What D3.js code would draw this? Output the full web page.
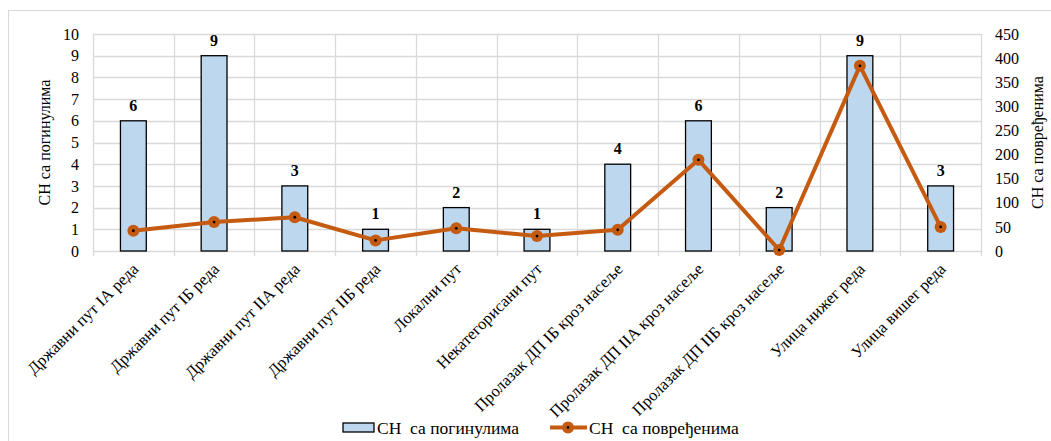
<!DOCTYPE html>
<html>
<head>
<meta charset="utf-8">
<script src="https://cdn.jsdelivr.net/npm/d3@7"></script>
<style>
  body { margin: 0; background: #fff; }
  text { font-family: "Liberation Serif", "Times New Roman", serif; }
</style>
</head>
<body>
<svg id="chart" width="1051" height="441"></svg>
<script>
// Road categories
const categories = [
  "Државни пут IА реда",
  "Државни пут IБ реда",
  "Државни пут IIА реда",
  "Државни пут IIБ реда",
  "Локални пут",
  "Некатегорисани пут",
  "Пролазак ДП IБ кроз насеље",
  "Пролазак ДП IIА кроз насеље",
  "Пролазак ДП IIБ кроз насеље",
  "Улица нижег реда",
  "Улица вишег реда"
];
// Accidents with fatalities (left axis)
const killed = [6, 9, 3, 1, 2, 1, 4, 6, 2, 9, 3];
// Accidents with injuries (right axis)
const injured = [42, 60, 70, 22, 47, 31, 44, 189, 2, 384, 50];

const leftTicks = [0, 1, 2, 3, 4, 5, 6, 7, 8, 9, 10];
const rightTicks = [0, 50, 100, 150, 200, 250, 300, 350, 400, 450];

const seriesNames = ["СН  са погинулима", "СН  са повређенима"];
const leftTitle = "СН са погинулима";
const rightTitle = "СН са повређенима";

const svg = d3.select("#chart");
const W = 1051, H = 441;
const m = { left: 93, right: 1051 - 981, top: 34, bottom: 441 - 251 };
const plotW = W - m.left - m.right, plotH = H - m.top - m.bottom;

// outer frame
svg.append("rect")
  .attr("x", 8.5).attr("y", 10.5)
  .attr("width", 1050).attr("height", 440)
  .attr("fill", "none").attr("stroke", "#d9d9d9").attr("stroke-width", 1);

const x = d3.scaleBand().domain(categories).range([m.left, m.left + plotW]).padding(0);
const yL = d3.scaleLinear().domain([0, 10]).range([m.top + plotH, m.top]);
const yR = d3.scaleLinear().domain([0, 450]).range([m.top + plotH, m.top]);

const g = svg.append("g");

// horizontal grid
g.selectAll(".hgrid").data(leftTicks).join("line")
  .attr("x1", m.left).attr("x2", m.left + plotW)
  .attr("y1", d => Math.round(yL(d)) + 0.5).attr("y2", d => Math.round(yL(d)) + 0.5)
  .attr("stroke", "#d9d9d9").attr("stroke-width", 1.3);

// vertical grid at category boundaries
const bounds = categories.map(c => x(c)).concat([m.left + plotW]);
g.selectAll(".vgrid").data(bounds).join("line")
  .attr("x1", d => Math.round(d) + 0.5).attr("x2", d => Math.round(d) + 0.5)
  .attr("y1", m.top).attr("y2", m.top + plotH + 5)
  .attr("stroke", "#d9d9d9").attr("stroke-width", 1.3);

// bars
const bw = x.bandwidth() * 0.32;
g.selectAll(".bar").data(killed).join("rect")
  .attr("x", (d, i) => x(categories[i]) + x.bandwidth() / 2 - bw / 2)
  .attr("y", d => yL(d))
  .attr("width", bw)
  .attr("height", d => yL(0) - yL(d))
  .attr("fill", "#bdd7ee").attr("stroke", "#000").attr("stroke-width", 1.3);

// bar value labels
g.selectAll(".blabel").data(killed).join("text")
  .attr("x", (d, i) => x(categories[i]) + x.bandwidth() / 2)
  .attr("y", d => yL(d) - 10)
  .attr("text-anchor", "middle")
  .attr("font-size", 16).attr("font-weight", "bold")
  .text(d => d);

// left axis
const axL = d3.axisLeft(yL).tickValues(leftTicks).tickSize(0).tickPadding(14);
const gl = svg.append("g").attr("transform", `translate(${m.left},0)`).call(axL);
gl.select(".domain").remove();
gl.selectAll("text").attr("font-size", 16).attr("fill", "#000")
  .style("font-family", "Liberation Serif");

// right axis
const axR = d3.axisRight(yR).tickValues(rightTicks).tickSize(0).tickPadding(14);
const gr = svg.append("g").attr("transform", `translate(${m.left + plotW},0)`).call(axR);
gr.select(".domain").remove();
gr.selectAll("text").attr("font-size", 16).attr("fill", "#000")
  .style("font-family", "Liberation Serif");

// axis titles
svg.append("text")
  .attr("transform", `translate(50,${m.top + plotH / 2}) rotate(-90)`)
  .attr("text-anchor", "middle").attr("font-size", 16)
  .text(leftTitle);
svg.append("text")
  .attr("transform", `translate(1043,${m.top + plotH / 2}) rotate(-90)`)
  .attr("text-anchor", "middle").attr("font-size", 16)
  .text(rightTitle);

// category labels
svg.selectAll(".xlabel").data(categories).join("text")
  .attr("transform", d => `translate(${x(d) + x.bandwidth() / 2 + 6},${m.top + plotH + 19}) rotate(-45)`)
  .attr("text-anchor", "end").attr("font-size", 16.5)
  .text(d => d);

// injuries line
const line = d3.line()
  .x((d, i) => x(categories[i]) + x.bandwidth() / 2)
  .y(d => yR(d));
g.append("path").datum(injured)
  .attr("d", line).attr("fill", "none")
  .attr("stroke", "#c55a11").attr("stroke-width", 4).attr("stroke-linejoin", "round");

g.selectAll(".pt").data(injured).join("circle")
  .attr("cx", (d, i) => x(categories[i]) + x.bandwidth() / 2)
  .attr("cy", d => yR(d))
  .attr("r", 6).attr("fill", "#c55a11");
g.selectAll(".ptc").data(injured).join("circle")
  .attr("cx", (d, i) => x(categories[i]) + x.bandwidth() / 2)
  .attr("cy", d => yR(d))
  .attr("r", 1.4).attr("fill", "#000");

// legend
const lg = svg.append("g");
lg.append("rect").attr("x", 343).attr("y", 423).attr("width", 31).attr("height", 9)
  .attr("fill", "#bdd7ee").attr("stroke", "#000").attr("stroke-width", 1.3);
lg.append("text").attr("x", 377).attr("y", 434).attr("font-size", 17.5)
  .style("white-space", "pre").text(seriesNames[0]);
lg.append("line").attr("x1", 550).attr("x2", 587).attr("y1", 427.5).attr("y2", 427.5)
  .attr("stroke", "#c55a11").attr("stroke-width", 4);
lg.append("circle").attr("cx", 568).attr("cy", 427.5).attr("r", 6).attr("fill", "#c55a11");
lg.append("circle").attr("cx", 568).attr("cy", 427.5).attr("r", 1.4).attr("fill", "#000");
lg.append("text").attr("x", 589).attr("y", 434).attr("font-size", 17.5)
  .style("white-space", "pre").text(seriesNames[1]);
</script>
</body>
</html>
